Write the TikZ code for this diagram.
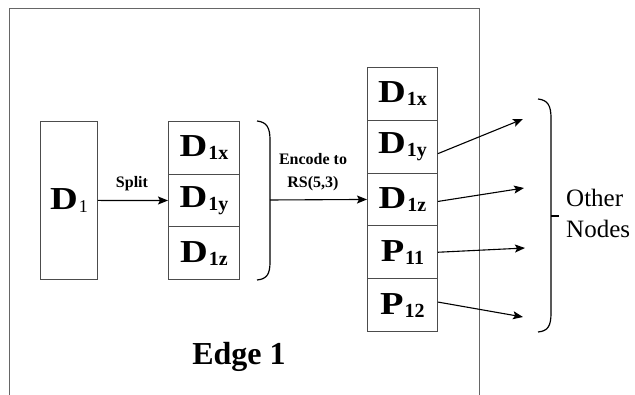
\documentclass[tikz,border=0pt]{standalone}
\usepackage{fontspec}
\setmainfont{Liberation Serif}
\usetikzlibrary{arrows.meta}
% block label: wide bold letter with a slightly lowered index
\newcommand{\blk}[2]{\scalebox{1.2}[1]{\textbf{#1}}\hspace{1pt}\raisebox{-3pt}{\fontsize{20}{20}\selectfont\bfseries #2}}
\newcommand{\blkthin}[2]{\scalebox{1.2}[1]{\textbf{#1}}\hspace{1pt}\raisebox{-3pt}{\fontsize{18}{18}\selectfont #2}}

\begin{document}
\begin{tikzpicture}[x=1pt,y=-1pt,
  cell/.style={draw=black!70, line width=0.9pt, minimum width=71pt, minimum height=52.7pt,
    inner sep=0pt, font=\fontsize{32}{32}\selectfont, anchor=north west},
  rcell/.style={cell, minimum width=70pt, minimum height=52.8pt},
  flow/.style={-{Stealth[length=10pt,width=8pt,inset=2pt]}, line width=1.1pt},
  brace/.style={line width=1.2pt},
  frame/.style={draw=black!60, line width=0.9pt},
  small/.style={font=\fontsize{16}{16}\selectfont\bfseries, inner sep=0pt, anchor=base}
]
\useasboundingbox (0,0) rectangle (635,395);

% edge device outline (open at the bottom)
\draw[frame] (9,395) -- (9,8) -- (479,8) -- (479,395);

% original block
\node[cell, minimum width=57pt, minimum height=158pt] (d1) at (40,121) {\blkthin{D}{1}};

% split pieces
\node[cell] (sx) at (168,121)   {\blk{D}{1x}};
\node[cell] (sy) at (168,173.7) {\blk{D}{1y}};
\node[cell] (sz) at (168,226.3) {\blk{D}{1z}};

% encoded stripe
\node[rcell] (rx)  at (367,67)    {\blk{D}{1x}};
\node[rcell] (ry)  at (367,119.8) {\blk{D}{1y}};
\node[rcell] (rz)  at (367,172.6) {\blk{D}{1z}};
\node[rcell] (p11) at (367,225.4) {\blk{P}{11}};
\node[rcell] (p12) at (367,278.2) {\blk{P}{12}};

% split step
\draw[flow] (d1.east) -- (sy.west);
\node[small] (split) at (132,188) {Split};

% bracket gathering the pieces
\coordinate (b1) at (270,200);
\draw[brace] (257,121) .. controls (267,122) and (270,128) .. (270,140)
  -- (270,262) .. controls (270,274) and (267,279) .. (257,280);
\draw[flow] (b1) -- (rz.west);
\node[small] (enc1) at (313,165) {Encode to};
\node[small] (enc2) at (313,188) {RS(5,3)};

% distribution to other nodes
\coordinate (t1) at (523,119);
\coordinate (t2) at (524,188);
\coordinate (t3) at (525,248);
\coordinate (t4) at (523,317);
\draw[flow] ([yshift=-7pt]ry.east) -- (t1);
\draw[flow] ([yshift=-2pt]rz.east) -- (t2);
\draw[flow] (p11.east) -- (t3);
\draw[flow] ([yshift=3pt]p12.east) -- (t4);

\draw[brace] (538,99) .. controls (548,100) and (551,106) .. (551,118)
  -- (551,313) .. controls (551,326) and (548,331) .. (538,332);
\draw[brace] (551,216) -- (559,216);
\node[font=\fontsize{25}{25}\selectfont, inner sep=0pt, anchor=base west] (oth) at (566,207) {Other};
\node[font=\fontsize{25}{25}\selectfont, inner sep=0pt, anchor=base west] (nod) at (566,238) {Nodes};

% caption inside the device
\node[font=\fontsize{32}{32}\selectfont\bfseries, inner sep=0pt, anchor=base] (edge) at (239,365) {Edge 1};
\end{tikzpicture}
\end{document}
